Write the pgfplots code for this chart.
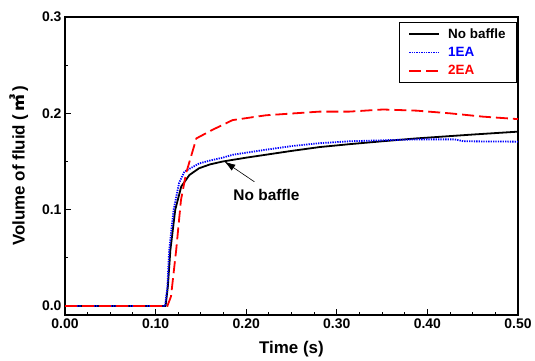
\documentclass[border=0pt]{standalone}
\usepackage{fontspec}
\setmainfont{Liberation Sans}
\newfontfamily\cjk{Noto Sans CJK KR}
\usepackage{pgfplots}
\pgfplotsset{compat=1.18}
\usetikzlibrary{arrows.meta}
\begin{document}
\begin{tikzpicture}
\begin{axis}[name=ax, scale only axis, width=453bp, height=298bp,
  xmin=0, xmax=0.5, ymin=-0.0093, ymax=0.3,
  xtick={0,0.1,0.2,0.3,0.4,0.5}, minor x tick num=3,
  ytick={0,0.1,0.2,0.3}, minor y tick num=1,
  xtick pos=bottom, ytick pos=left,
  tick align=inside, major tick length=6bp, minor tick length=3.5bp,
  axis line style={line width=1.6bp},
  every tick/.style={line width=1bp, black},
  /pgf/number format/assume math mode=true,
  ticklabel style={font=\bfseries\fontsize{14}{14}\selectfont},
  xticklabel style={/pgf/number format/.cd,fixed,fixed zerofill,precision=2},
  yticklabel style={/pgf/number format/.cd,fixed,fixed zerofill,precision=1},
  xlabel={Time (s)}, ylabel={Volume of fluid (\,{\cjk ㎥}\,)},
  label style={font=\bfseries\fontsize{17}{17}\selectfont},
  xlabel style={yshift=-6bp},
  ylabel style={yshift=7bp},
  legend style={at={(rel axis cs:0.998,0.983)}, anchor=north east, draw=black, line width=0.8bp,
    font=\bfseries\fontsize{13.5}{13.5}\selectfont, row sep=3.5bp, inner xsep=9bp, inner ysep=4bp,
    nodes={inner sep=2bp}},
  legend cell align=left,
  legend image code/.code={\draw[#1] (0bp,0bp) -- (30bp,0bp);},
]
\addplot[black, line width=1.8bp] coordinates {
(0,0) (0.1110,0) (0.1135,0.02) (0.1163,0.058) (0.1217,0.100) (0.1283,0.124) (0.1373,0.136)
(0.148,0.143) (0.160,0.147) (0.174,0.150) (0.200,0.154) (0.250,0.161) (0.281,0.165)
(0.314,0.168) (0.350,0.171) (0.388,0.174) (0.450,0.178) (0.500,0.181)};
\addlegendentry{\hspace{6bp}No baffle}
\addplot[blue, line width=1.8bp, dash pattern=on 1.3bp off 1.1bp] coordinates {
(0,0) (0.1105,0) (0.1130,0.02) (0.1150,0.058) (0.1199,0.100) (0.1260,0.128) (0.1318,0.1395)
(0.148,0.148) (0.160,0.151) (0.174,0.154) (0.185,0.157) (0.220,0.162) (0.250,0.166) (0.281,0.169)
(0.314,0.171) (0.350,0.172) (0.388,0.173) (0.430,0.173) (0.440,0.171) (0.500,0.1706)};
\addlegendentry{\hspace{6bp}\textcolor{blue}{1EA}}
\addplot[red, line width=1.8bp, dash pattern=on 12bp off 5bp] coordinates {
(0,0) (0.113,0) (0.117,0.010) (0.1227,0.058) (0.128,0.110) (0.1337,0.138) (0.145,0.174)
(0.163,0.183) (0.185,0.193) (0.222,0.198) (0.281,0.2018) (0.314,0.2018) (0.351,0.204)
(0.388,0.2028) (0.425,0.200) (0.461,0.1966) (0.500,0.194)};
\addlegendentry{\hspace{6bp}\textcolor{red}{2EA}}
\draw[line width=0.6bp, -{Latex[length=11bp,width=7bp]}] (axis cs:0.209,0.129) -- (axis cs:0.176,0.150);
\node[font=\bfseries\fontsize{15.5}{15.5}\selectfont] at (axis cs:0.2224,0.115) {No baffle};
\end{axis}
\path[use as bounding box] ([shift={(-65bp,-46bp)}]ax.south west) rectangle ([shift={(17bp,17bp)}]ax.north east);
\end{tikzpicture}
\end{document}
